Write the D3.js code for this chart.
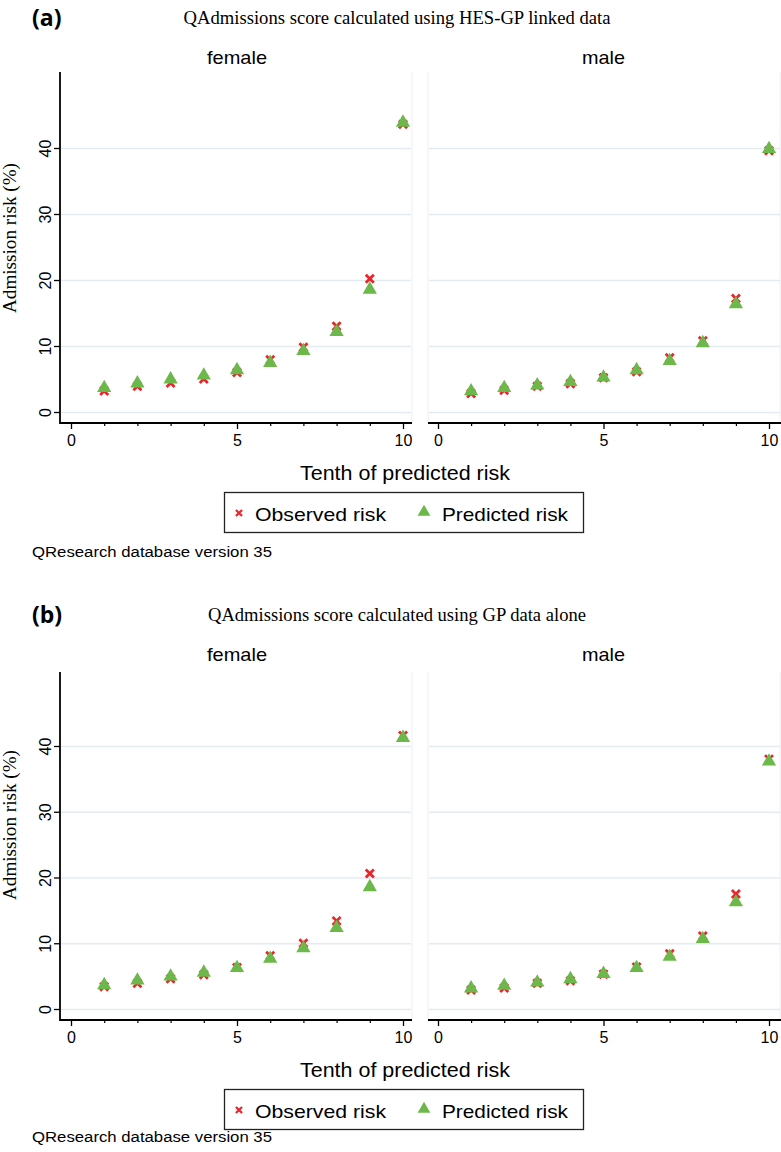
<!DOCTYPE html>
<html>
<head>
<meta charset="utf-8">
<script src="https://cdn.jsdelivr.net/npm/d3@7/dist/d3.min.js"></script>
<style>
  html, body { margin: 0; padding: 0; background: #ffffff; }
  svg { display: block; }
</style>
</head>
<body>
<script>
// ---- data ----
const deciles = [1, 2, 3, 4, 5, 6, 7, 8, 9, 10];
const sexes = ["female", "male"];
const panelLabels = ["(a)", "(b)"];
const panelTitles = [
  "QAdmissions score calculated using HES-GP linked data",
  "QAdmissions score calculated using GP data alone"
];
const obsFemaleA  = [3.2, 3.9, 4.4, 5.0, 6.0, 7.9, 9.8, 13.0, 20.2, 43.6];
const predFemaleA = [3.8, 4.5, 5.1, 5.7, 6.5, 7.6, 9.4, 12.3, 18.7, 44.0];
const obsMaleA    = [2.8, 3.3, 3.9, 4.3, 5.2, 6.1, 8.2, 10.8, 17.2, 39.6];
const predMaleA   = [3.3, 3.8, 4.2, 4.7, 5.4, 6.5, 7.9, 10.6, 16.5, 40.0];
const obsFemaleB  = [3.4, 3.9, 4.6, 5.2, 6.3, 8.1, 10.0, 13.4, 20.6, 41.6];
const predFemaleB = [3.8, 4.5, 5.1, 5.7, 6.4, 7.8, 9.4, 12.5, 18.7, 41.4];
const obsMaleB    = [2.9, 3.2, 3.9, 4.3, 5.3, 6.4, 8.4, 11.1, 17.5, 38.0];
const predMaleB   = [3.3, 3.7, 4.2, 4.7, 5.5, 6.4, 8.1, 10.8, 16.4, 37.8];
const yTicks = [0, 10, 20, 30, 40];
const xTicks = [0, 5, 10];
const xMinorTicks = [1, 2, 3, 4, 6, 7, 8, 9];
const legendLabels = ["Observed risk", "Predicted risk"];
const yTitle = "Admission risk (%)";
const xTitle = "Tenth of predicted risk";
const sourceNote = "QResearch database version 35";

// ---- style / layout ----
const W = 781, H = 1152;
const RED = "#e8262c", GREEN = "#6cb84a", GRID = "#e3ebf0", BORDER = "#eef2f5";
const SANS = "'Liberation Sans', Arial, sans-serif";
const SERIF = "'Liberation Serif', 'Times New Roman', serif";

const svg = d3.select("body").append("svg").attr("width", W).attr("height", H);

const panels = [
  { off: 0,   data: [[obsFemaleA, predFemaleA], [obsMaleA, predMaleA]],
    y0: 412, y40: 148, top: 72, axisY: 423, titleW: 427, yTitleC: 238, srcY: 557 },
  { off: 597, data: [[obsFemaleB, predFemaleB], [obsMaleB, predMaleB]],
    y0: 1009, y40: 746, top: 672, axisY: 1020, titleW: 378, yTitleC: 825, srcY: 1142 }
];
const facets = [
  { x0: 71, x10: 403, left: 60, right: 412, nameW: 60 },
  { x0: 438, x10: 769, left: 428, right: 781, nameW: 43 }
];

panels.forEach((p, pi) => {
  const g = svg.append("g");
  const y = d3.scaleLinear().domain([0, 40]).range([p.y0, p.y40]);

  // panel letter
  g.append("text").attr("x", 32).attr("y", 26 + p.off)
    .attr("font-family", "'Open Sans', 'DejaVu Sans', sans-serif")
    .attr("font-weight", "bold").attr("font-size", 23)
    .text(panelLabels[pi]);
  // title
  g.append("text").attr("x", 397).attr("y", 24 + p.off)
    .attr("text-anchor", "middle").attr("font-family", SERIF).attr("font-size", 19)
    .attr("textLength", p.titleW).attr("lengthAdjust", "spacingAndGlyphs")
    .text(panelTitles[pi]);

  facets.forEach((f, fi) => {
    const x = d3.scaleLinear().domain([0, 10]).range([f.x0, f.x10]);
    const fg = g.append("g");

    // facet name
    fg.append("text").attr("x", x(5)).attr("y", 64 + p.off)
      .attr("text-anchor", "middle").attr("font-family", SANS).attr("font-size", 19)
      .attr("textLength", f.nameW).attr("lengthAdjust", "spacingAndGlyphs")
      .text(sexes[fi]);

    // faint plot border (sides)
    if (fi === 0) {
      fg.append("line").attr("x1", f.right).attr("x2", f.right)
        .attr("y1", p.top).attr("y2", p.axisY).attr("stroke", BORDER).attr("stroke-width", 1.2);
    } else {
      fg.append("line").attr("x1", f.left).attr("x2", f.left)
        .attr("y1", p.top).attr("y2", p.axisY).attr("stroke", BORDER).attr("stroke-width", 1.2);
      fg.append("line").attr("x1", W - 1).attr("x2", W - 1)
        .attr("y1", p.top).attr("y2", p.axisY).attr("stroke", BORDER).attr("stroke-width", 1.2);
    }

    // gridlines
    const gridAxis = d3.axisLeft(y).tickValues(yTicks)
      .tickSize(-(f.right - f.left - 2)).tickFormat("");
    const gg = fg.append("g").attr("transform", `translate(${f.left + 1},0)`).call(gridAxis);
    gg.select(".domain").remove();
    gg.selectAll(".tick line").attr("stroke", GRID).attr("stroke-width", 1.6);

    // y axis (female only)
    if (fi === 0) {
      const ya = fg.append("g").attr("transform", `translate(${f.left},0)`)
        .call(d3.axisLeft(y).tickValues(yTicks).tickSize(6).tickFormat(d3.format("d")));
      ya.select(".domain").remove();
      ya.selectAll(".tick line").attr("stroke", "#000").attr("stroke-width", 1.3);
      ya.selectAll(".tick text").attr("font-family", SANS).attr("font-size", 16)
        .attr("fill", "#000").attr("x", 0).attr("dy", 0)
        .attr("text-anchor", "middle")
        .attr("transform", "translate(-15,0) rotate(-90)")
        .attr("y", 0).attr("dominant-baseline", "central");
      fg.append("line").attr("x1", f.left).attr("x2", f.left)
        .attr("y1", p.top).attr("y2", p.axisY + 1).attr("stroke", "#000").attr("stroke-width", 1.8);
      // y title
      fg.append("text")
        .attr("transform", `translate(16,${p.yTitleC}) rotate(-90)`)
        .attr("text-anchor", "middle").attr("font-family", SERIF).attr("font-size", 19)
        .attr("textLength", 150).attr("lengthAdjust", "spacingAndGlyphs")
        .text(yTitle);
    }

    // x axis
    const xa = fg.append("g").attr("transform", `translate(0,${p.axisY})`)
      .call(d3.axisBottom(x).tickValues(xTicks).tickSize(6).tickPadding(6).tickFormat(d3.format("d")));
    xa.select(".domain").remove();
    xa.selectAll(".tick line").attr("stroke", "#000").attr("stroke-width", 1.3);
    xa.selectAll(".tick text").attr("font-family", SANS).attr("font-size", 16).attr("fill", "#000");
    const xm = fg.append("g").attr("transform", `translate(0,${p.axisY})`)
      .call(d3.axisBottom(x).tickValues(xMinorTicks).tickSize(3).tickFormat(""));
    xm.select(".domain").remove();
    xm.selectAll(".tick line").attr("stroke", "#000").attr("stroke-width", 1.2);
    fg.append("line").attr("x1", f.left).attr("x2", f.right)
      .attr("y1", p.axisY).attr("y2", p.axisY).attr("stroke", "#000").attr("stroke-width", 1.8);

    // markers
    const [obs, pred] = p.data[fi];
    const cross = d3.symbol().type(d3.symbolX).size(44);
    const tri = d3.symbol().type(d3.symbolTriangle).size(88);
    fg.append("g").selectAll("path").data(deciles).join("path")
      .attr("d", cross)
      .attr("transform", (d, i) => `translate(${x(d)},${y(obs[i])})`)
      .attr("fill", "none").attr("stroke", RED).attr("stroke-width", 2.8);
    fg.append("g").selectAll("path").data(deciles).join("path")
      .attr("d", tri)
      .attr("transform", (d, i) => `translate(${x(d)},${y(pred[i]) + 1})`)
      .attr("fill", GREEN);
  });

  // x title
  g.append("text").attr("x", 405).attr("y", 480 + p.off)
    .attr("text-anchor", "middle").attr("font-family", SANS).attr("font-size", 20)
    .attr("textLength", 210).attr("lengthAdjust", "spacingAndGlyphs")
    .text(xTitle);

  // legend
  const lg = g.append("g").attr("transform", `translate(0,${p.off})`);
  lg.append("rect").attr("x", 224.5).attr("y", 492.5).attr("width", 359).attr("height", 40)
    .attr("fill", "#fff").attr("stroke", "#222").attr("stroke-width", 1.3);
  lg.append("path").attr("d", d3.symbol().type(d3.symbolX).size(26)())
    .attr("transform", "translate(239,513)").attr("fill", "none")
    .attr("stroke", RED).attr("stroke-width", 2.2);
  lg.append("text").attr("x", 255).attr("y", 521).attr("font-family", SANS).attr("font-size", 19)
    .attr("textLength", 131).attr("lengthAdjust", "spacingAndGlyphs").text(legendLabels[0]);
  lg.append("path").attr("d", d3.symbol().type(d3.symbolTriangle).size(70)())
    .attr("transform", "translate(424,512)").attr("fill", GREEN);
  lg.append("text").attr("x", 442).attr("y", 521).attr("font-family", SANS).attr("font-size", 19)
    .attr("textLength", 126).attr("lengthAdjust", "spacingAndGlyphs").text(legendLabels[1]);

  // source note
  g.append("text").attr("x", 32).attr("y", p.srcY)
    .attr("font-family", SANS).attr("font-size", 14)
    .attr("textLength", 240).attr("lengthAdjust", "spacingAndGlyphs")
    .text(sourceNote);
});
</script>
</body>
</html>
